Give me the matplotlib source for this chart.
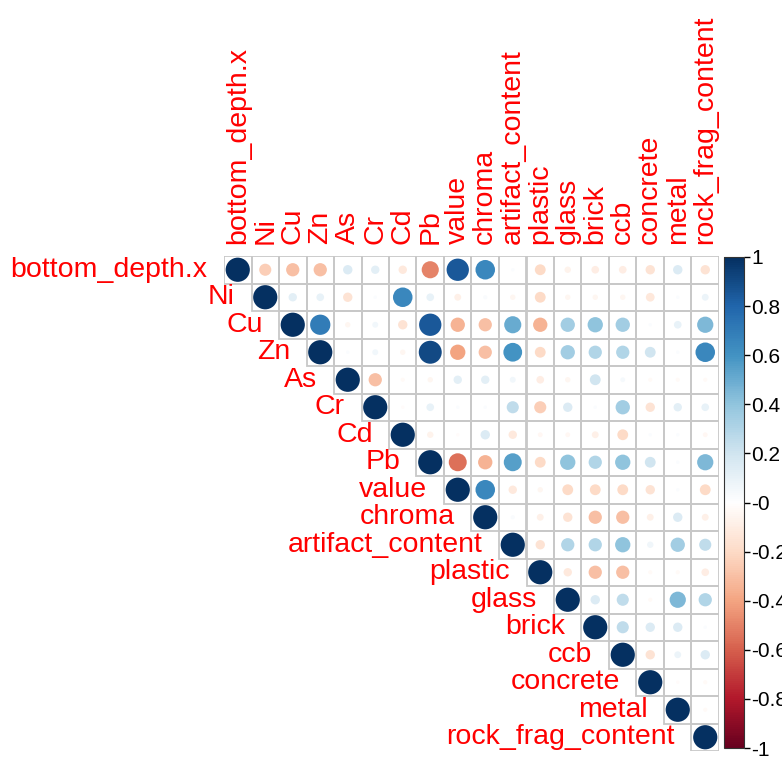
import numpy as np
import matplotlib
matplotlib.use("Agg")
import matplotlib.pyplot as plt
from matplotlib.colors import LinearSegmentedColormap, Normalize
from matplotlib.patches import Rectangle, Circle
from matplotlib.cm import ScalarMappable

plt.rcParams['font.family'] = ['Liberation Sans', 'DejaVu Sans']

labels = ["bottom_depth.x", "Ni", "Cu", "Zn", "As", "Cr", "Cd", "Pb", "value",
          "chroma", "artifact_content", "plastic", "glass", "brick", "ccb",
          "concrete", "metal", "rock_frag_content"]

# upper triangle, row i holds correlations with columns i+1 .. end
upper = [
    [-0.25, -0.3, -0.3, 0.15, 0.12, -0.12, -0.5, 0.85, 0.65, 0.02, -0.2, -0.07, -0.1, -0.1, -0.15, 0.15, -0.15],
    [0.12, 0.1, -0.15, 0.02, 0.65, 0.1, -0.08, 0.03, -0.05, -0.2, -0.05, -0.05, -0.05, -0.13, 0.02, 0.08],
    [0.7, -0.05, 0.06, -0.15, 0.85, -0.35, -0.3, 0.5, -0.35, 0.35, 0.4, 0.35, 0.02, 0.1, 0.45],
    [0.02, 0.06, -0.05, 0.9, -0.4, -0.3, 0.6, -0.2, 0.35, 0.3, 0.3, 0.2, 0.02, 0.65],
    [-0.3, -0.03, -0.05, 0.12, 0.12, 0.06, -0.1, -0.05, 0.2, 0.04, -0.03, -0.03, -0.03],
    [-0.02, 0.1, 0.02, 0.02, 0.25, -0.25, 0.15, 0.02, 0.35, -0.15, 0.12, 0.1],
    [-0.07, -0.02, 0.15, -0.12, -0.04, -0.04, -0.08, -0.2, 0.02, 0.02, -0.04],
    [-0.55, -0.35, 0.55, -0.2, 0.4, 0.3, 0.4, 0.2, 0.02, 0.45],
    [0.65, -0.12, -0.05, -0.2, -0.2, -0.2, -0.15, 0.02, -0.2],
    [0.03, -0.08, -0.15, -0.3, -0.3, -0.08, 0.15, -0.08],
    [-0.15, 0.3, 0.3, 0.4, 0.07, 0.35, 0.25],
    [-0.12, -0.3, -0.3, -0.03, -0.03, -0.1],
    [0.15, 0.25, -0.03, 0.45, 0.3],
    [0.25, 0.15, 0.15, 0.02],
    [-0.15, 0.08, 0.15],
    [-0.02, -0.03],
    [-0.03],
]

n = len(labels)
M = np.eye(n)
for i, row in enumerate(upper):
    for k, v in enumerate(row):
        M[i, i + 1 + k] = v

cmap = LinearSegmentedColormap.from_list("rdbu", [
    "#67001F", "#B2182B", "#D6604D", "#F4A582", "#FDDBC7", "#FFFFFF",
    "#D1E5F0", "#92C5DE", "#4393C3", "#2166AC", "#053061"])
norm = Normalize(-1, 1)

W, H = 782, 760
fig = plt.figure(figsize=(W / 100, H / 100), dpi=100)
ax = fig.add_axes([224 / W, (H - 751) / H, 495 / W, 495 / H])
ax.set_xlim(0, n)
ax.set_ylim(n, 0)
ax.set_aspect('equal')
ax.axis('off')

for i in range(n):
    for j in range(i, n):
        ax.add_patch(Rectangle((j, i), 1, 1, fill=False, ec='#C8C8C8', lw=1.3, zorder=1))
        r = M[i, j]
        ax.add_patch(Circle((j + 0.5, i + 0.5), 0.44 * np.sqrt(abs(r)),
                            fc=cmap(norm(r)), ec='none', zorder=2))

for i, lab in enumerate(labels):
    ax.text(i - 0.6, i + 0.5, lab, ha='right', va='center', color='red',
            fontsize=20.5, clip_on=False)
    ax.text(i + 0.5, -0.42, lab, ha='center', va='bottom', rotation=90,
            color='red', fontsize=20.5, clip_on=False)

cax = fig.add_axes([724 / W, (H - 748) / H, 20 / W, 491 / H])
cb = fig.colorbar(ScalarMappable(norm=norm, cmap=cmap), cax=cax)
ticks = np.round(np.arange(-1, 1.01, 0.2), 1)
cb.set_ticks(ticks)
cb.set_ticklabels([f"{t:g}" for t in ticks])
cax.tick_params(labelsize=15, length=4, width=1, pad=1)
cb.outline.set_edgecolor('#333333')

fig.savefig("out.png", dpi=100)
